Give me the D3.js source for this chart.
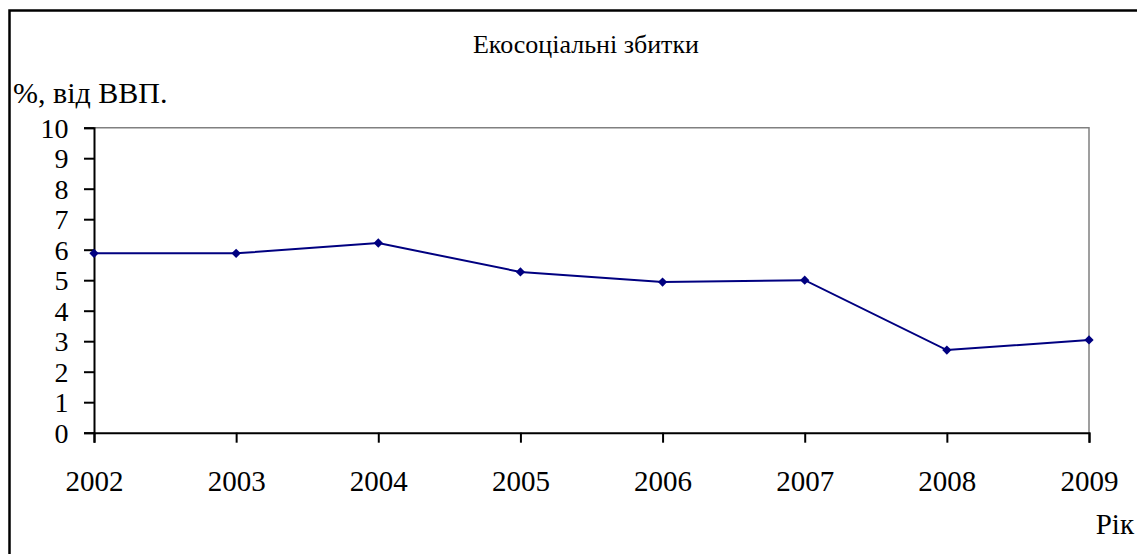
<!DOCTYPE html>
<html>
<head>
<meta charset="utf-8">
<script src="https://cdn.jsdelivr.net/npm/d3@7"></script>
<style>
html, body { margin: 0; padding: 0; background: #fff; }
svg { display: block; }
</style>
</head>
<body>
<svg id="chart" width="1137" height="554"></svg>
<script>
const years = ["2002", "2003", "2004", "2005", "2006", "2007", "2008", "2009"];
const values = [5.88, 5.88, 6.22, 5.27, 4.94, 5.0, 2.71, 3.04];
const yTicks = [0, 1, 2, 3, 4, 5, 6, 7, 8, 9, 10];
const title = "Екосоціальні збитки";
const yLabel = "%, від ВВП.";
const xLabel = "Рік";

const FONT = "'Liberation Serif', Tinos, serif";
const svg = d3.select("#chart");
const W = 1137, H = 554;
const plot = { left: 94, right: 1089, top: 127.7, bottom: 432.7 };

// outer frame
svg.append("rect")
  .attr("x", 9.5).attr("y", 10.5)
  .attr("width", W + 20).attr("height", H + 20)
  .attr("fill", "none").attr("stroke", "#000").attr("stroke-width", 2.5);

const x = d3.scalePoint().domain(years).range([plot.left, plot.right]).padding(0);
const y = d3.scaleLinear().domain([0, 10]).range([plot.bottom, plot.top]);

// plot area top/right border (grey)
svg.append("path")
  .attr("d", `M${plot.left},${plot.top}H${plot.right}V${plot.bottom}`)
  .attr("fill", "none").attr("stroke", "#808080").attr("stroke-width", 1.5);

// y axis
const yAxis = svg.append("g")
  .attr("transform", `translate(${plot.left},0)`)
  .call(d3.axisLeft(y).tickValues(yTicks).tickSize(10).tickPadding(15.5).tickFormat(d3.format("d")))
  .attr("font-family", FONT).attr("font-size", 28);
yAxis.select(".domain").attr("stroke", "#000").attr("stroke-width", 2);
yAxis.selectAll(".tick line").attr("stroke", "#000").attr("stroke-width", 2);
yAxis.selectAll(".tick text")
  .attr("fill", "#000")
  .attr("dy", "0.34em");

// x axis
const xAxis = svg.append("g")
  .attr("transform", `translate(0,${plot.bottom})`)
  .call(d3.axisBottom(x).tickSize(10).tickPadding(27.5))
  .attr("font-family", FONT).attr("font-size", 29);
xAxis.select(".domain").attr("stroke", "#000").attr("stroke-width", 2);
xAxis.selectAll(".tick line").attr("stroke", "#000").attr("stroke-width", 2);
xAxis.selectAll(".tick text").attr("fill", "#000");

// line
const line = d3.line().x((d, i) => x(years[i])).y(d => y(d));
svg.append("path")
  .datum(values)
  .attr("d", line)
  .attr("fill", "none").attr("stroke", "#000080").attr("stroke-width", 2);

// diamond markers
svg.selectAll(".marker")
  .data(values)
  .enter().append("path")
  .attr("class", "marker")
  .attr("d", d3.symbol().type(d3.symbolDiamond2).size(55))
  .attr("transform", (d, i) => `translate(${x(years[i])},${y(d)})`)
  .attr("fill", "#000080");

// title
svg.append("text")
  .attr("x", 586).attr("y", 52.5)
  .attr("text-anchor", "middle")
  .attr("font-family", FONT).attr("font-size", 26)
  .text(title);

// y label
svg.append("text")
  .attr("x", 13).attr("y", 103)
  .attr("font-family", FONT).attr("font-size", 30)
  .text(yLabel);

// x label
svg.append("text")
  .attr("x", 1134).attr("y", 533.5)
  .attr("text-anchor", "end")
  .attr("font-family", FONT).attr("font-size", 29)
  .text(xLabel);
</script>
</body>
</html>
